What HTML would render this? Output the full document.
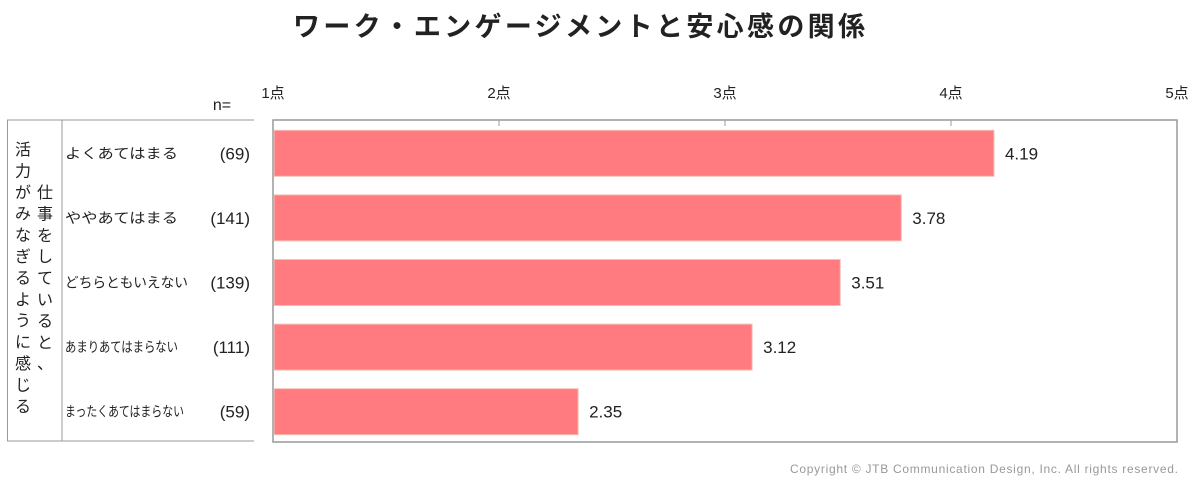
<!DOCTYPE html>
<html><head><meta charset="utf-8"><style>
body{margin:0;background:#fff;width:1200px;height:488px;overflow:hidden;font-family:"Liberation Sans","Noto Sans CJK JP",sans-serif;}
svg text{font-family:"Liberation Sans","Noto Sans CJK JP",sans-serif;}
</style></head><body>
<svg id="chart" width="1200" height="488">
<text x="579" y="36" text-anchor="middle" font-size="27" font-weight="bold" fill="#222" textLength="572" lengthAdjust="spacing">ワーク・エンゲージメントと安心感の関係</text>
<rect x="273" y="120" width="904" height="322" fill="none" stroke="#999" stroke-width="1.5"/>
<g>
<line x1="7" y1="120" x2="254" y2="120" stroke="#999"/>
<line x1="7" y1="441" x2="254" y2="441" stroke="#999"/>
<line x1="7.5" y1="120" x2="7.5" y2="441" stroke="#999"/>
<line x1="62" y1="120" x2="62" y2="441" stroke="#999"/>
</g>
<text x="222" y="110" text-anchor="middle" font-size="16" fill="#222">n=</text>
<g id="vt"></g>
<g id="marks"></g>
<text x="1178" y="473" text-anchor="end" font-size="12" fill="#999" textLength="388" lengthAdjust="spacing">Copyright © JTB Communication Design, Inc. All rights reserved.</text>
</svg>
<script>
const categories=["よくあてはまる","ややあてはまる","どちらともいえない","あまりあてはまらない","まったくあてはまらない"];
const nValues=["(69)","(141)","(139)","(111)","(59)"];
const values=[4.19,3.78,3.51,3.12,2.35];
const ticks=[1,2,3,4,5];
const tickLabels=["1点","2点","3点","4点","5点"];
const NS="http://www.w3.org/2000/svg";
const x0=273,x1=1177,y0=120,rowH=64.6;
const labelW=[113,113,123,113,119];
const xs=v=>x0+(v-1)/4*(x1-x0);
const g=document.getElementById('marks');
function mk(t,a,p){const e=document.createElementNS(NS,t);for(const k in a)e.setAttribute(k,a[k]);(p||g).appendChild(e);return e;}
ticks.forEach((t,i)=>{
 const tx=mk('text',{x:xs(t),y:98,'text-anchor':'middle','font-size':15,fill:'#222'});tx.textContent=tickLabels[i];
 
 
 if(i>0&&i<ticks.length-1){const l=mk('line',{x1:xs(t),x2:xs(t),y1:120,y2:126,stroke:'#999'});
 
 }
});
categories.forEach((c,i)=>{
 const cy=y0+rowH*(i+0.5)+1;
 const r=mk('rect',{x:x0+1,y:cy-23,width:xs(values[i])-x0-1,height:46,fill:'#ff7b80',stroke:'#f2c0b8','stroke-width':1});
 
 
 const v=mk('text',{x:xs(values[i])+11,y:cy+6,'font-size':17,fill:'#222'});v.textContent=values[i].toFixed(2);
 
 
 const cl=mk('text',{x:65,y:cy+5,'font-size':14,fill:'#222',textLength:labelW[i],lengthAdjust:'spacingAndGlyphs'});cl.textContent=c;
 
 
 const n=mk('text',{x:250,y:cy+6,'text-anchor':'end','font-size':17,fill:'#222'});n.textContent=nValues[i];
 
 
});
const vt=document.getElementById('vt');
function vtext(s,x,y,name){[...s].forEach((ch,i)=>{const t=mk('text',{x:x,y:y+i*21.4,'text-anchor':'middle','font-size':16,fill:'#222'},vt);t.textContent=ch;
 
 });}
vtext("活力がみなぎるように感じる",23,155,'group-label-main');
vtext("仕事をしていると、",45,198,'group-label-sub');
</script>
</body></html>
